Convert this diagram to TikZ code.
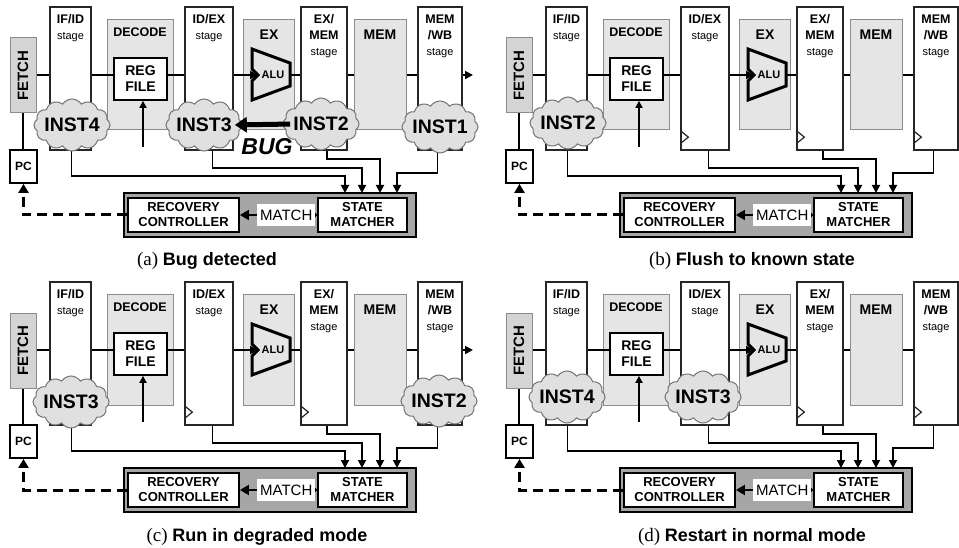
\documentclass[tikz,border=0pt]{standalone}
\usepackage{fontspec}
\setmainfont{Liberation Serif}
\setsansfont{Liberation Sans}
\usetikzlibrary{arrows.meta,shapes.symbols}

\newcommand{\stg}{{\mdseries\fontsize{11}{16}\selectfont stage}}
\newcommand{\panelcap}[2]{(#1) {\sffamily\bfseries\fontsize{18}{22}\selectfont #2}}

\begin{document}
\begin{tikzpicture}[x=1pt,y=-1pt,
  stagebox/.style={draw=black!85,fill=white,line width=1.3pt,minimum width=#1,minimum height=143pt,inner sep=0pt},
  unitbox/.style={draw=black!45,fill=black!10,line width=1pt,minimum width=#1,minimum height=110pt,inner sep=0pt},
  plainbox/.style={draw,fill=white,line width=1.8pt,inner sep=0pt,align=center,font=\sffamily\bfseries\fontsize{13}{15}\selectfont},
  head/.style={anchor=north,inner sep=0pt,align=center,font=\sffamily\bfseries\fontsize{12.5}{16}\selectfont},
  unithead/.style={inner sep=0pt,font=\sffamily\bfseries\fontsize{14}{16}\selectfont},
  bus/.style={line width=1.8pt},
  feed/.style={bus,-{Triangle[length=8pt,width=8pt]}},
  dashfeed/.style={line width=3pt,dash pattern=on 10pt off 6pt,-{Triangle[length=9pt,width=10pt]}},
  clk/.style={line width=1.2pt,draw=black!85},
  alu/.style={line width=3pt,line join=miter},
  inst/.style={cloud,cloud puffs=12,cloud puff arc=115,cloud ignores aspect,draw=black!55,fill=black!12,line width=1pt,minimum width=76pt,minimum height=52pt,inner sep=0pt},
  insttxt/.style={inner sep=0pt,font=\sffamily\bfseries\fontsize{19.5}{22}\selectfont},
  captxt/.style={anchor=base,inner sep=0pt,font=\rmfamily\mdseries\fontsize{19}{22}\selectfont}]
  \path[use as bounding box,fill=white] (0,0) rectangle (959,548);
  \foreach \p/\dx/\dy in {a/0/0,b/496/0,c/0/275,d/496/275} {
  \begin{scope}[shift={(\dx,\dy)},name prefix/.expanded=\p-]
  % pipeline
  \coordinate (lane) at (0,75);
  \node[unitbox=26pt,minimum height=75pt,fill=black!17] (fetch) at (23,75.5) {};
  \node[unithead,rotate=90,font=\sffamily\bfseries\fontsize{15}{16}\selectfont] (fetcht) at (fetch) {FETCH};
  \node[stagebox=41pt] (ifid) at (70.5,78.5) {};
  \node[unitbox=66pt] (dec) at (140,75) {};
  \node[plainbox,minimum width=53pt,minimum height=42pt,font=\sffamily\bfseries\fontsize{14}{16}\selectfont] (rf) at (140.5,79) {REG\\FILE};
  \node[stagebox=48pt] (idex) at (209,78.5) {};
  \node[unitbox=51pt] (ex) at (269,75) {};
  \node[stagebox=46pt] (exmem) at (324,78.5) {};
  \node[unitbox=52pt] (mem) at (380,75) {};
  \node[stagebox=44pt] (memwb) at (440,78.5) {};
  \node[head] (ifidt) at ([yshift=-8pt]ifid.north) {IF/ID\\\stg};
  \node[head] (idext) at ([yshift=-8pt]idex.north) {ID/EX\\\stg};
  \node[head] (exmemt) at ([yshift=-8pt]exmem.north) {EX/\\MEM\\\stg};
  \node[head] (memwbt) at ([yshift=-8pt]memwb.north) {MEM\\/WB\\\stg};
  \node[unithead,font=\sffamily\bfseries\fontsize{12.5}{16}\selectfont] (dect) at ([yshift=-13pt]dec.north) {DECODE};
  \node[unithead] (ext) at ([yshift=-15pt]ex.north) {EX};
  \node[unithead] (memt) at ([yshift=-15pt]mem.north) {MEM};
  \foreach \s in {ifid,idex,exmem,memwb} { \draw[clk] ([yshift=20pt]\s.south west) -- ++(8,6.5) -- ++(-8,6.5); }
  % alu
  \draw[alu] (252,49) -- (290,63) -- (290,86) -- (252,100) -- (252,81) -- (258,75) -- (252,69) -- cycle;
  \coordinate (aluin) at (258,75);
  \coordinate (aluout) at (290,75);
  \node[inner sep=0pt,font=\sffamily\bfseries\fontsize{11}{12}\selectfont] (alut) at (273,75) {ALU};
  % datapath
  \draw[bus] (fetch.east |- lane) -- (ifid.west |- lane);
  \draw[bus] (ifid.east |- lane) -- (rf.west |- lane);
  \draw[bus] (rf.east |- lane) -- (idex.west |- lane);
  \draw[feed] (idex.east |- lane) -- (aluin);
  \draw[bus] (aluout) -- (exmem.west |- lane);
  \draw[bus] (exmem.east |- lane) -- (mem.west |- lane);
  \draw[bus] (mem.east |- lane) -- (memwb.west |- lane);
  \coordinate (out) at (473,75);
  \draw[feed] (memwb.east |- lane) -- (out);
  \coordinate (rfin) at (143,147);
  \draw[bus,-{Triangle[length=7pt,width=7pt]}] (rfin) -- (rfin |- rf.south);
  % recovery unit
  \node[draw,line width=2.5pt,fill=black!35,minimum width=292pt,minimum height=44pt,inner sep=0pt] (rec) at (270,215) {};
  \node[plainbox,minimum width=111pt,minimum height=34pt] (rc) at (183.5,215) {RECOVERY\\CONTROLLER};
  \node[plainbox,minimum width=89pt,minimum height=34pt] (sm) at (362.5,215) {STATE\\MATCHER};
  \draw[bus,{Circle[length=4pt]}-{Triangle[length=9pt,width=10pt]}] (sm.west) -- node[pos=0.4,fill=white,inner xsep=3pt,minimum height=22pt,font=\sffamily\mdseries\fontsize{15}{16}\selectfont] (mt) {MATCH} (rc.east);
  \node[plainbox,minimum width=27pt,minimum height=33pt,font=\sffamily\bfseries\fontsize{12}{14}\selectfont] (pc) at (23.5,166.5) {PC};
  \draw[bus] (fetch.south) -- (fetch.south |- pc.north);
  \draw[dashfeed] (rc.west) -| (pc.south);
  % state feeds
  \foreach \i/\x in {1/345,2/362,3/380,4/397} { \coordinate (in\i) at (\x,193); }
  \draw[feed] ([xshift=1pt]ifid.south) -- ++(0,25) -| (in1);
  \draw[feed] ([xshift=3.5pt]idex.south) -- ++(0,17) -| (in2);
  \draw[feed] ([xshift=3pt]exmem.south) -- ++(0,8) -| (in3);
  \draw[feed] ([xshift=-2.5pt]memwb.south) -- ++(0,22) -| (in4);
  \end{scope}
  }
  % (a) bug detected
  \node[inst] (a-c4) at (72,125) {};   \node[insttxt] (a-t4) at (a-c4) {INST4};
  \node[inst] (a-c3) at (204,125) {};  \node[insttxt] (a-t3) at (a-c3) {INST3};
  \node[inst] (a-c2) at (321,124) {};  \node[insttxt] (a-t2) at (a-c2) {INST2};
  \node[inst] (a-c1) at (440,127) {};  \node[insttxt] (a-t1) at (a-c1) {INST1};
  \draw[line width=5pt,-{Triangle[length=12pt,width=15pt]},shorten <=3pt,shorten >=3pt] (a-t2.west) -- (a-t3.east);
  \node[inner sep=0pt,font=\sffamily\bfseries\itshape\fontsize{23}{26}\selectfont] (a-bug) at (267,147) {BUG};
  % (b) flush
  \node[inst] (b-c2) at (568,123) {};  \node[insttxt] (b-t2) at (b-c2) {INST2};
  % (c) degraded
  \node[inst] (c-c3) at (71,402) {};   \node[insttxt] (c-t3) at (c-c3) {INST3};
  \node[inst] (c-c2) at (439,401) {};  \node[insttxt] (c-t2) at (c-c2) {INST2};
  % (d) restart
  \node[inst] (d-c4) at (567,397) {};  \node[insttxt] (d-t4) at (d-c4) {INST4};
  \node[inst] (d-c3) at (703,397) {};  \node[insttxt] (d-t3) at (d-c3) {INST3};
  % captions
  \node[captxt] (a-cap) at (207,266) {\panelcap{a}{Bug detected}};
  \node[captxt] (b-cap) at (752,266) {\panelcap{b}{Flush to known state}};
  \node[captxt] (c-cap) at (257,541) {\panelcap{c}{Run in degraded mode}};
  \node[captxt] (d-cap) at (752,541) {\panelcap{d}{Restart in normal mode}};
\end{tikzpicture}
\end{document}
